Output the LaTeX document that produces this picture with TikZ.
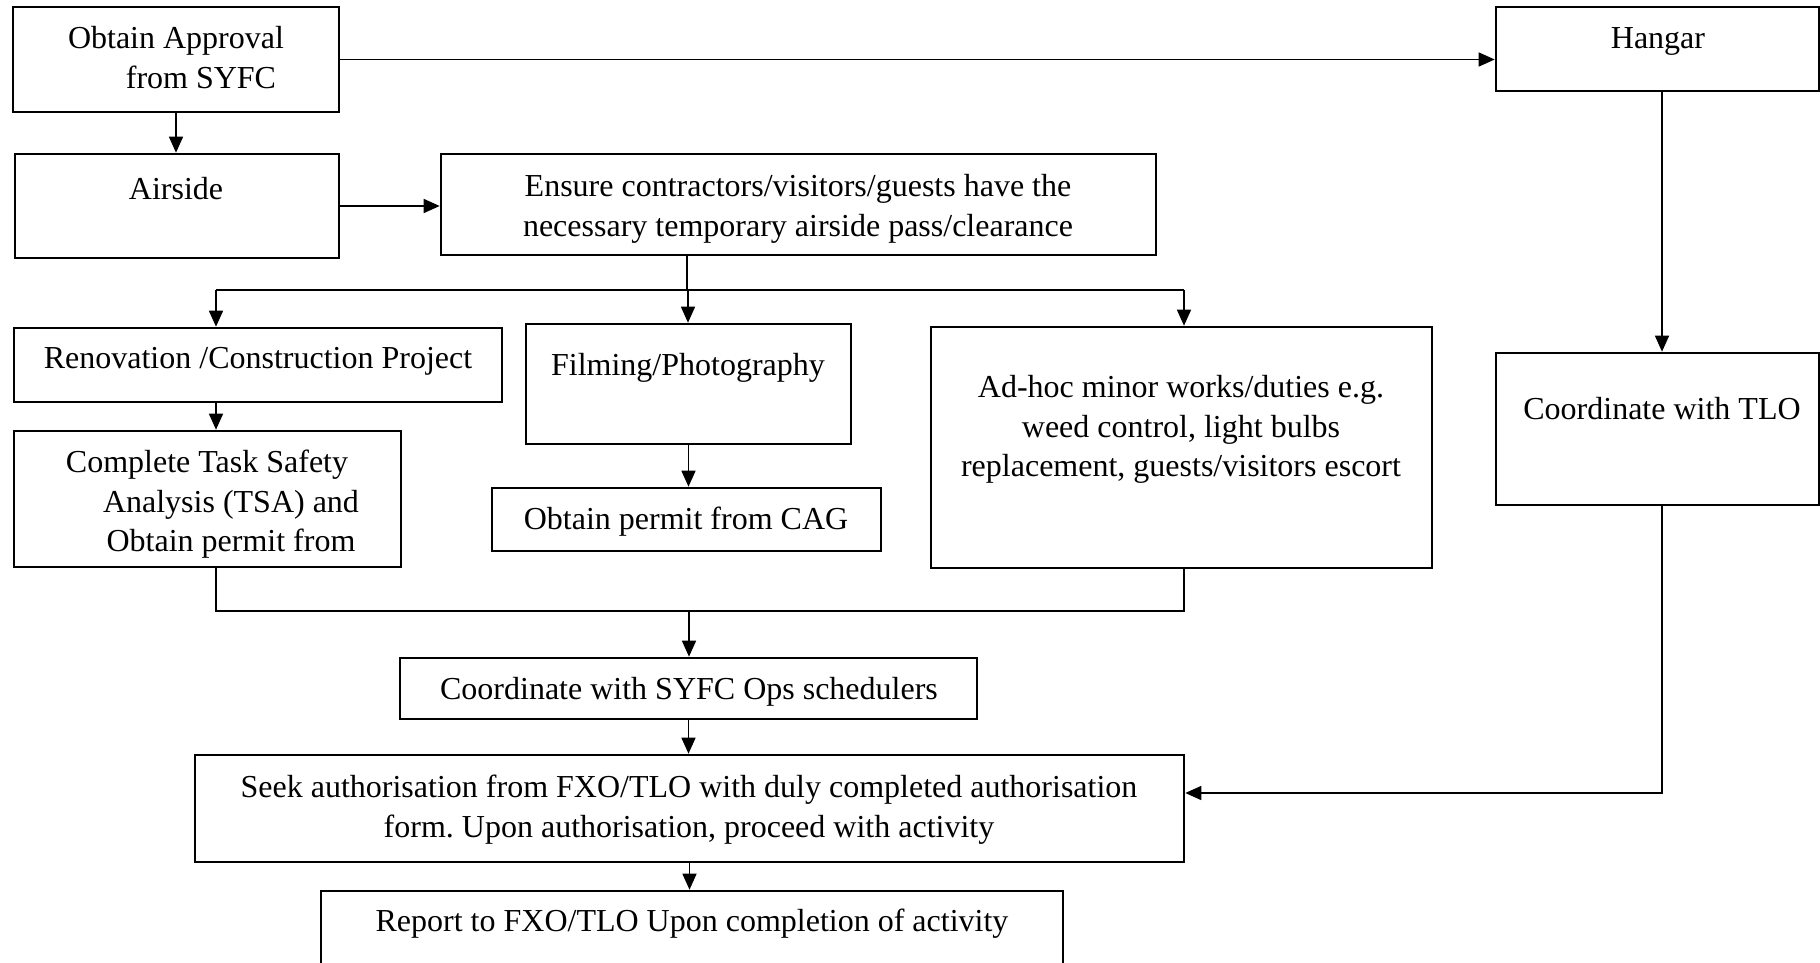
\documentclass[tikz,border=0pt]{standalone}
\usepackage{fontspec}
\setmainfont{Liberation Serif}
\usetikzlibrary{arrows.meta,fit}
\frenchspacing
\begin{document}
\begin{tikzpicture}[x=0.5pt,y=-0.5pt,
  box/.style={draw, line width=1.3pt, inner sep=0pt},
  txt/.style={anchor=north, inner sep=0pt, align=center, font=\fontsize{16}{19.75}\selectfont\frenchspacing},
  conn/.style={line width=0.75pt},
  arr/.style={conn, -{Triangle[length=8pt,width=7pt]}}]
\useasboundingbox (0,0) rectangle (1820,963);
\clip (0,0) rectangle (1820,963);
% boxes
\node[box, fit={(13,7) (339,112)}] (obt) {};
\node[box, fit={(15,154) (339,258)}] (air) {};
\node[box, fit={(441,154) (1156,255)}] (ens) {};
\node[box, fit={(1496,7) (1819,91)}] (hang) {};
\node[box, fit={(14,328) (502,402)}] (reno) {};
\node[box, fit={(526,324) (851,444)}] (film) {};
\node[box, fit={(931,327) (1432,568)}] (adhoc) {};
\node[box, fit={(1496,353) (1819,505)}] (tlo) {};
\node[box, fit={(14,431) (401,567)}] (tsa) {};
\node[box, fit={(492,488) (881,551)}] (cag) {};
\node[box, fit={(400,658) (977,719)}] (ops) {};
\node[box, fit={(195,755) (1184,862)}] (seek) {};
\node[box, fit={(321,891) (1063,980)}] (rep) {};
% texts
\node[txt] (tobt) at (176,26) {Obtain Approval\\\hspace*{25pt}from SYFC};
\node[txt] (tair) at (176,177) {Airside};
\node[txt] (tens) at (798,174) {Ensure contractors/visitors/guests have the\\necessary temporary airside pass/clearance};
\node[txt] (thang) at (1658,27) {Hangar};
\node[txt] (treno) at (258,347) {Renovation /Construction Project};
\node[txt] (tfilm) at (688,353) {Filming/Photography};
\node[txt] (tcag) at (686,507) {Obtain permit from CAG};
\node[txt] (tadhoc) at (1181,375) {Ad-hoc minor works/duties e.g.\\weed control, light bulbs\\replacement, guests/visitors escort};
\node[txt] (ttsa) at (207,450) {Complete Task Safety\\\hspace*{24pt}Analysis (TSA) and\\\hspace*{24pt}Obtain permit from};
\node[txt] (ttlo) at (1662,397) {Coordinate with TLO};
\node[txt] (tops) at (689,677) {Coordinate with SYFC Ops schedulers};
\node[txt] (tseek) at (689,775) {Seek authorisation from FXO/TLO with duly completed authorisation\\form. Upon authorisation, proceed with activity};
\node[txt] (trep) at (692,909) {Report to FXO/TLO Upon completion of activity};
% connector coordinates
\coordinate (splitx) at (687,290);
\coordinate (sl) at (216,290);
\coordinate (sm) at (688,290);
\coordinate (sr) at (1184,290);
\coordinate (ml) at (216,611);
\coordinate (mm) at (689,611);
\coordinate (mr) at (1184,611);
\coordinate (hl) at (1662,793);
% connectors
\draw[arr] (obt.south) -- (obt.south |- air.north);
\draw[arr] (obt.east) -- (obt.east -| hang.west);
\draw[arr] (air.east) -- (air.east -| ens.west);
\draw[conn] (splitx |- ens.south) -- (splitx);
\draw[conn] (sl) -- (sr);
\draw[arr] (sl) -- (sl |- reno.north);
\draw[arr] (sm) -- (sm |- film.north);
\draw[arr] (sr) -- (sr |- adhoc.north);
\draw[arr] (sl |- reno.south) -- (sl |- tsa.north);
\draw[arr] (film.south) -- (film.south |- cag.north);
\draw[conn] (ml |- tsa.south) -- (ml) -- (mr) -- (mr |- adhoc.south);
\draw[arr] (mm) -- (mm |- ops.north);
\draw[arr] (ops.south) -- (ops.south |- seek.north);
\draw[arr] (seek.south) -- (seek.south |- rep.north);
\draw[arr] (hl |- hang.south) -- (hl |- tlo.north);
\draw[arr] (hl |- tlo.south) -- (hl) -- (hl -| seek.east);
\end{tikzpicture}
\end{document}
